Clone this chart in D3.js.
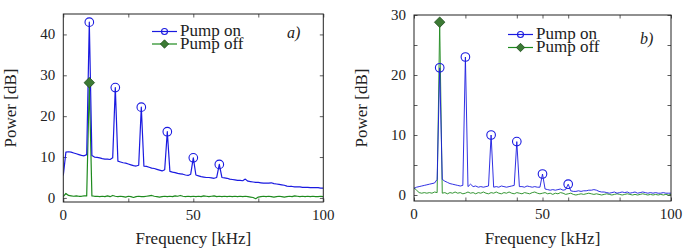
<!DOCTYPE html>
<html><head><meta charset="utf-8">
<script src="https://cdn.jsdelivr.net/npm/d3@7"></script>
<style>body{margin:0;background:#fff}svg{display:block}</style>
</head><body><svg id="c" width="685" height="251"></svg>
<script>
// Frequency grid in kHz (one sample per kHz, 0..100)
const freqKHz = d3.range(0, 101);

// Panel a) spectra [dB]
const aPumpOn = [5.5,11.2,11.3,11.2,11.0,10.8,10.6,10.4,10.3,10.6,43.0,10.4,10.0,9.9,9.8,9.6,9.5,9.5,9.4,9.8,
27.0,9.0,8.8,8.6,8.5,8.3,8.1,7.9,7.8,8.0,22.2,7.8,7.7,7.5,7.3,7.2,7.0,6.8,6.6,6.9,
16.2,6.5,6.3,6.2,6.0,5.9,5.8,5.6,5.5,5.8,9.8,5.6,5.4,5.2,5.1,5.0,5.0,4.9,4.8,5.0,
8.2,5.0,4.9,4.8,4.6,4.5,4.4,4.3,4.3,4.2,4.6,4.1,4.0,3.9,3.8,3.8,3.7,3.6,3.6,3.6,
3.7,3.5,3.4,3.3,3.2,3.1,2.9,2.8,2.8,2.7,2.7,2.7,2.6,2.6,2.6,2.5,2.5,2.5,2.5,2.4,2.4];
const aPumpOff = [0.3,1.1,0.6,0.5,0.4,0.5,0.4,0.4,0.5,0.5,28.2,0.5,0.4,0.4,0.3,0.4,0.3,0.5,0.3,0.6,
0.4,0.3,0.4,0.3,0.2,0.4,0.3,0.1,0.3,0.4,0.3,0.3,0.4,0.5,0.6,0.4,0.3,0.2,0.3,0.4,
0.3,0.4,0.3,0.5,0.4,0.6,0.4,0.3,0.4,0.3,0.4,0.3,0.4,0.3,0.5,0.4,0.3,0.4,0.5,0.3,
0.4,0.3,0.4,0.3,0.4,0.3,0.4,0.3,0.4,0.3,0.4,0.3,0.2,0.1,-0.2,0.2,0.3,0.4,0.3,0.4,
0.3,0.2,0.3,0.4,0.3,0.2,0.3,0.4,0.3,0.5,0.4,0.3,0.4,0.3,0.4,0.3,0.4,0.3,0.3,0.4,0.3];

// Panel b) spectra [dB]
const bPumpOn = [1.1,1.3,1.4,1.5,1.6,1.7,1.8,1.9,2.0,2.6,21.2,2.6,2.3,2.1,1.9,1.8,1.7,1.6,1.5,1.6,
23.0,1.4,1.8,1.4,1.5,1.3,1.4,1.3,1.4,1.5,10.0,1.3,1.4,1.3,1.5,1.4,1.3,1.4,1.5,1.6,
8.9,1.4,1.4,1.3,1.5,1.4,1.3,1.4,1.3,1.3,3.5,1.0,0.9,0.8,0.9,0.8,0.9,1.0,0.8,0.9,
1.8,0.7,0.6,0.6,0.7,0.6,0.7,0.7,0.8,0.8,0.9,0.8,0.6,0.5,0.5,0.4,0.3,0.4,0.5,0.3,
0.4,0.5,0.4,0.5,0.3,0.4,0.5,0.3,0.4,0.5,0.4,0.3,0.4,0.3,0.4,0.3,0.3,0.4,0.3,0.3,0.3];
const bPumpOff = [1.2,0.8,0.4,0.3,0.4,0.3,0.4,0.3,0.5,0.4,28.8,0.3,0.4,0.2,0.4,0.3,0.5,0.3,0.4,0.2,
0.3,0.5,0.3,0.4,0.2,0.4,0.3,0.5,0.3,0.2,0.4,0.3,0.5,0.3,0.2,0.4,0.3,0.5,0.3,0.2,
0.4,0.3,0.2,0.4,0.3,0.2,0.4,0.5,0.3,0.2,0.3,0.4,0.2,0.3,0.1,0.3,0.2,0.4,0.3,0.1,
0.2,0.3,0.1,0.0,0.1,0.2,0.1,0.2,0.3,0.2,0.1,0.2,0.1,0.0,0.1,0.2,0.1,0.0,0.1,0.2,
0.1,0.0,0.1,0.2,0.1,0.0,0.1,0.0,0.1,0.2,0.1,0.0,0.1,0.0,0.1,0.0,0.1,0.0,0.1,0.0,0.1];

// Marker positions (harmonics of the 10 kHz drive)
const onMarkerFreqs = [10, 20, 30, 40, 50, 60];
const offMarkerFreqs = [10];

// Axis ticks / labels
const xTickLabels = [0, 50, 100];
const aXTicks = [0, 25, 50, 75, 100];
const bXTicks = [0, 20, 40, 50, 60, 80, 100];
const aYTicks = [0, 10, 20, 30, 40];
const aYLabels = [0, 10, 20, 30, 40];
const bYTicks = [0, 5, 10, 15, 20, 25, 30];
const bYLabels = [0, 10, 20, 30];
const seriesNames = ["Pump on", "Pump off"];
const xTitle = "Frequency [kHz]";
const yTitle = "Power [dB]";

const FONT = "'Liberation Serif', 'Times New Roman', serif";
const BLUE = "#1a1ae0", GREEN = "#1e8a1e", DIAMOND = "#3c7a34";
const svg = d3.select("#c");

function txt(sel, size) {
  return sel.append("text").style("font-family", FONT).style("font-size", size + "px").style("fill", "#222");
}

function panel(o) {
  const g = svg.append("g");
  const x = d3.scaleLinear().domain([0, 100]).range([o.x0, o.x1]);
  const y = d3.scaleLinear().domain(o.yDom).range([o.y1, o.y0]);
  const clipId = "clip" + o.tag;
  svg.append("clipPath").attr("id", clipId).append("rect")
    .attr("x", o.x0).attr("y", o.y0).attr("width", o.x1 - o.x0).attr("height", o.y1 - o.y0);

  // ticks (inward, mirrored)
  const tl = 3.5;
  g.append("g").attr("transform", `translate(0,${o.y1})`)
    .call(d3.axisBottom(x).tickValues(o.xTicks).tickSizeInner(-tl).tickSizeOuter(0).tickFormat(""))
    .call(s => s.select(".domain").remove());
  g.append("g").attr("transform", `translate(0,${o.y0})`)
    .call(d3.axisTop(x).tickValues(o.xTicks).tickSizeInner(-tl).tickSizeOuter(0).tickFormat(""))
    .call(s => s.select(".domain").remove());
  g.append("g").attr("transform", `translate(${o.x0},0)`)
    .call(d3.axisLeft(y).tickValues(o.yTicks).tickSizeInner(-tl).tickSizeOuter(0).tickFormat(""))
    .call(s => s.select(".domain").remove());
  g.append("g").attr("transform", `translate(${o.x1},0)`)
    .call(d3.axisRight(y).tickValues(o.yTicks).tickSizeInner(-tl).tickSizeOuter(0).tickFormat(""))
    .call(s => s.select(".domain").remove());
  g.selectAll(".tick line").attr("stroke", "#333").attr("stroke-width", 0.8);
  g.selectAll(".tick text").remove();

  // tick labels
  xTickLabels.forEach(d => txt(g, 15).attr("x", x(d)).attr("y", o.y1 + 18).attr("text-anchor", "middle").text(d));
  o.yLabels.forEach(d => txt(g, 15).attr("x", o.x0 - 8).attr("y", y(d) + 5).attr("text-anchor", "end").text(d));

  // axis titles
  txt(g, 17).attr("x", (o.x0 + o.x1) / 2).attr("y", 244).attr("text-anchor", "middle").text(xTitle);
  txt(g, 17).attr("transform", `translate(${o.yTitleX},${(o.y0 + o.y1) / 2}) rotate(-90)`)
    .attr("text-anchor", "middle").text(yTitle);

  // lines
  const line = d3.line().x((d, i) => x(freqKHz[i])).y(d => y(d));
  const plot = g.append("g").attr("clip-path", `url(#${clipId})`);
  plot.append("path").datum(o.off).attr("d", line).attr("fill", "none")
    .attr("stroke", GREEN).attr("stroke-width", o.sw).attr("stroke-linejoin", "round");
  plot.append("path").datum(o.on).attr("d", line).attr("fill", "none")
    .attr("stroke", BLUE).attr("stroke-width", o.sw).attr("stroke-linejoin", "round");

  // markers
  g.selectAll(".mon").data(onMarkerFreqs).join("circle")
    .attr("cx", f => x(f)).attr("cy", f => y(o.on[freqKHz.indexOf(f)])).attr("r", 4.3)
    .attr("fill", "none").attr("stroke", BLUE).attr("stroke-width", 1.1);
  const dia = d3.symbol().type(d3.symbolDiamond2).size(70);
  g.selectAll(".moff").data(offMarkerFreqs).join("path")
    .attr("transform", f => `translate(${x(f)},${y(o.off[freqKHz.indexOf(f)])})`)
    .attr("d", dia).attr("fill", DIAMOND).attr("stroke", "#1d4d1d").attr("stroke-width", 0.8);

  // box
  g.append("rect").attr("x", o.x0).attr("y", o.y0).attr("width", o.x1 - o.x0).attr("height", o.y1 - o.y0)
    .attr("fill", "none").attr("stroke", "#222").attr("stroke-width", 1);

  // legend
  const L = o.leg;
  [0, 1].forEach(k => {
    const yy = L.y + k * L.dy;
    const col = k === 0 ? BLUE : GREEN;
    g.append("line").attr("x1", L.x).attr("x2", L.x + 25).attr("y1", yy).attr("y2", yy)
      .attr("stroke", col).attr("stroke-width", 1.2);
    if (k === 0) g.append("circle").attr("cx", L.x + 12.5).attr("cy", yy).attr("r", 3)
      .attr("fill", "none").attr("stroke", BLUE).attr("stroke-width", 1.1);
    else g.append("path").attr("transform", `translate(${L.x + 12.5},${yy})`).attr("d", d3.symbol().type(d3.symbolDiamond2).size(45))
      .attr("fill", DIAMOND).attr("stroke", "#1d4d1d").attr("stroke-width", 0.8);
    txt(g, 17).attr("x", L.x + 28).attr("y", yy + 4.5).text(seriesNames[k]);
  });
  txt(g, 16).style("font-style", "italic").attr("x", o.tagX).attr("y", o.tagY).text(o.tag + ")");
}

panel({tag: "a", x0: 63.3, x1: 323.3, y0: 14, y1: 202, yDom: [-1, 45],
  xTicks: aXTicks, yTicks: aYTicks, yLabels: aYLabels, on: aPumpOn, off: aPumpOff, sw: 1.2,
  yTitleX: 16, leg: {x: 152, y: 31.5, dy: 12.5}, tagX: 287, tagY: 38});
panel({tag: "b", x0: 414, x1: 671, y0: 15, y1: 201, yDom: [-1, 30],
  xTicks: bXTicks, yTicks: bYTicks, yLabels: bYLabels, on: bPumpOn, off: bPumpOff, sw: 0.9,
  yTitleX: 367, leg: {x: 508, y: 34.5, dy: 13}, tagX: 640, tagY: 44});
</script></body></html>
